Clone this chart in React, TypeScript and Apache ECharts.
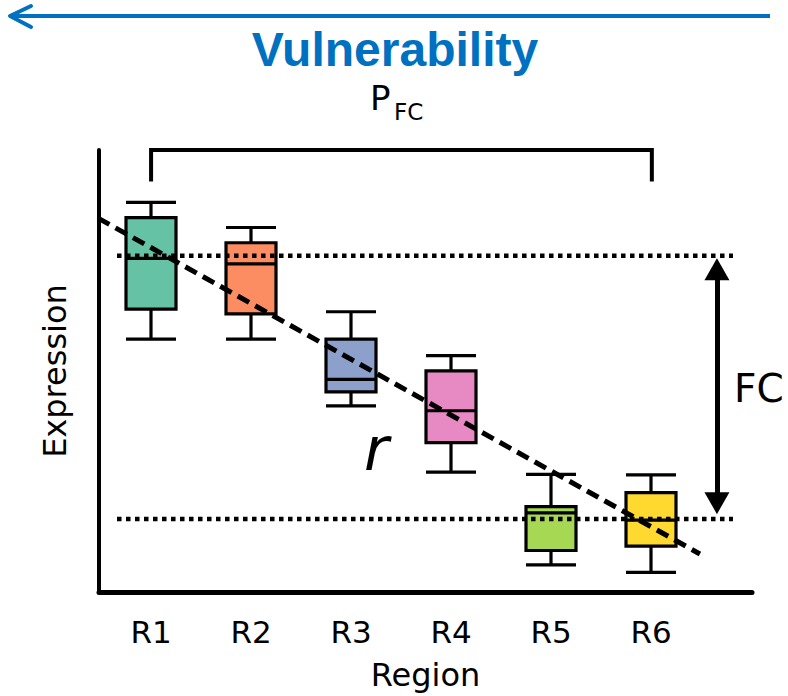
import React, { useEffect, useRef } from "react";
import * as echarts from "echarts";

// ---- data ----
const categories = ["R1", "R2", "R3", "R4", "R5", "R6"];
// [min, Q1, median, Q3, max]
const boxValues = [
  [5.78, 6.45, 7.58, 8.49, 8.83],
  [5.78, 6.34, 7.46, 7.93, 8.27],
  [4.29, 4.6, 4.88, 5.78, 6.39],
  [2.81, 3.47, 4.18, 5.07, 5.41],
  [0.74, 1.06, 1.9, 2.04, 2.76],
  [0.57, 1.16, 1.74, 2.35, 2.75],
];
const boxColors = ["#66c2a5", "#fc8d62", "#8da0cb", "#e78ac3", "#a6d854", "#ffd92f"];
const trendLine = [
  [0.47, 8.46],
  [6.48, 0.86],
];
const maxMedianLine = [
  [0.66, 7.61],
  [6.81, 7.61],
];
const minMedianLine = [
  [0.66, 1.65],
  [6.81, 1.65],
];
const bracketLine = [
  [1, 9.29],
  [1, 10],
  [6, 10],
  [6, 9.29],
];
const fcArrow = [
  [6.65, 7.3],
  [6.65, 2.01],
];

const FONT = "DejaVu Sans";
const BLUE = "#0070C0";

export default function App() {
  const ref = useRef<HTMLDivElement>(null);

  useEffect(() => {
    if (!ref.current) return;
    const chart = echarts.init(ref.current, null, { renderer: "svg" });
    chart.setOption({
      animation: false,
      backgroundColor: "#ffffff",
      grid: [
        { left: 99, right: 36, top: 150, bottom: 98 },
        { left: 101, width: 600, top: 150, bottom: 98 },
      ],
      xAxis: [
        {
          type: "value",
          gridIndex: 0,
          min: 0.48,
          max: 7,
          axisLine: { show: true, lineStyle: { color: "#000", width: 5 } },
          axisTick: { show: false },
          axisLabel: { show: false },
          splitLine: { show: false },
          name: "Region",
          nameLocation: "middle",
          nameGap: 67,
          nameTextStyle: { fontSize: 32, color: "#000", fontFamily: FONT },
        },
        {
          type: "category",
          gridIndex: 1,
          data: categories,
          axisLine: { show: false },
          axisTick: { show: false },
          axisLabel: { fontSize: 31, color: "#000", fontFamily: FONT, margin: 18 },
          splitLine: { show: false },
        },
      ],
      yAxis: [
        {
          type: "value",
          gridIndex: 0,
          min: 0,
          max: 10,
          axisLine: { show: true, lineStyle: { color: "#000", width: 4 } },
          axisTick: { show: false },
          axisLabel: { show: false },
          splitLine: { show: false },
          name: "Expression",
          nameLocation: "middle",
          nameRotate: 90,
          nameGap: 28,
          nameTextStyle: { fontSize: 32, color: "#000", fontFamily: FONT },
        },
        {
          type: "value",
          gridIndex: 1,
          min: 0,
          max: 10,
          show: false,
        },
      ],
      series: [
        {
          type: "boxplot",
          xAxisIndex: 1,
          yAxisIndex: 1,
          boxWidth: [50, 50],
          z: 2,
          data: boxValues.map((v, i) => ({
            value: v,
            itemStyle: { color: boxColors[i], borderColor: "#000", borderWidth: 3.2 },
          })),
        },
        {
          type: "line",
          xAxisIndex: 0,
          yAxisIndex: 0,
          data: maxMedianLine,
          symbol: "none",
          z: 4,
          lineStyle: { color: "#000", width: 4.5, type: [4.5, 4.5], cap: "butt" },
        },
        {
          type: "line",
          xAxisIndex: 0,
          yAxisIndex: 0,
          data: minMedianLine,
          symbol: "none",
          z: 4,
          lineStyle: { color: "#000", width: 4.5, type: [4.5, 4.5], cap: "butt" },
        },
        {
          type: "line",
          xAxisIndex: 0,
          yAxisIndex: 0,
          data: trendLine,
          symbol: "none",
          z: 5,
          clip: false,
          lineStyle: { color: "#000", width: 5, type: [13, 7], cap: "butt" },
        },
        {
          type: "line",
          xAxisIndex: 0,
          yAxisIndex: 0,
          data: bracketLine,
          symbol: "none",
          clip: false,
          z: 5,
          lineStyle: { color: "#000", width: 4, join: "miter" },
        },
        {
          type: "line",
          xAxisIndex: 0,
          yAxisIndex: 0,
          data: [],
          symbol: "none",
          markLine: {
            silent: true,
            symbol: ["triangle", "triangle"],
            symbolSize: [25, 22],
            label: { show: false },
            lineStyle: { color: "#000", width: 5, type: "solid" },
            data: [[{ coord: fcArrow[0] }, { coord: fcArrow[1] }]],
          },
        },
      ],
      graphic: [
        {
          type: "polyline",
          shape: { points: [[770, 16], [10, 16]] },
          style: { stroke: BLUE, lineWidth: 4, fill: null },
          silent: true,
        },
        {
          type: "polyline",
          shape: { points: [[31, 6], [10, 16], [31, 27]] },
          style: { stroke: BLUE, lineWidth: 4, fill: null, lineCap: "round", lineJoin: "round" },
          silent: true,
        },
        {
          type: "text",
          x: 395,
          y: 49,
          style: {
            text: "Vulnerability",
            fill: BLUE,
            font: "bold 48px 'Liberation Sans'",
            textAlign: "center",
            textVerticalAlign: "middle",
          },
        },
        {
          type: "text",
          x: 370,
          y: 98,
          style: {
            text: "P",
            fill: "#000",
            font: `34px '${FONT}'`,
            textAlign: "left",
            textVerticalAlign: "middle",
          },
        },
        {
          type: "text",
          x: 394,
          y: 112,
          style: {
            text: "FC",
            fill: "#000",
            font: `23px '${FONT}'`,
            textAlign: "left",
            textVerticalAlign: "middle",
          },
        },
        {
          type: "text",
          x: 734,
          y: 388,
          style: {
            text: "FC",
            fill: "#000",
            font: `39px '${FONT}'`,
            textAlign: "left",
            textVerticalAlign: "middle",
          },
        },
        {
          type: "text",
          x: 364,
          y: 449,
          style: {
            text: "r",
            fill: "#000",
            font: `italic 60px '${FONT}'`,
            textAlign: "left",
            textVerticalAlign: "middle",
          },
        },
      ],
    });
    return () => chart.dispose();
  }, []);

  return (
    <div
      ref={ref}
      style={{ position: "absolute", left: 0, top: 0, width: 788, height: 696 }}
    />
  );
}
